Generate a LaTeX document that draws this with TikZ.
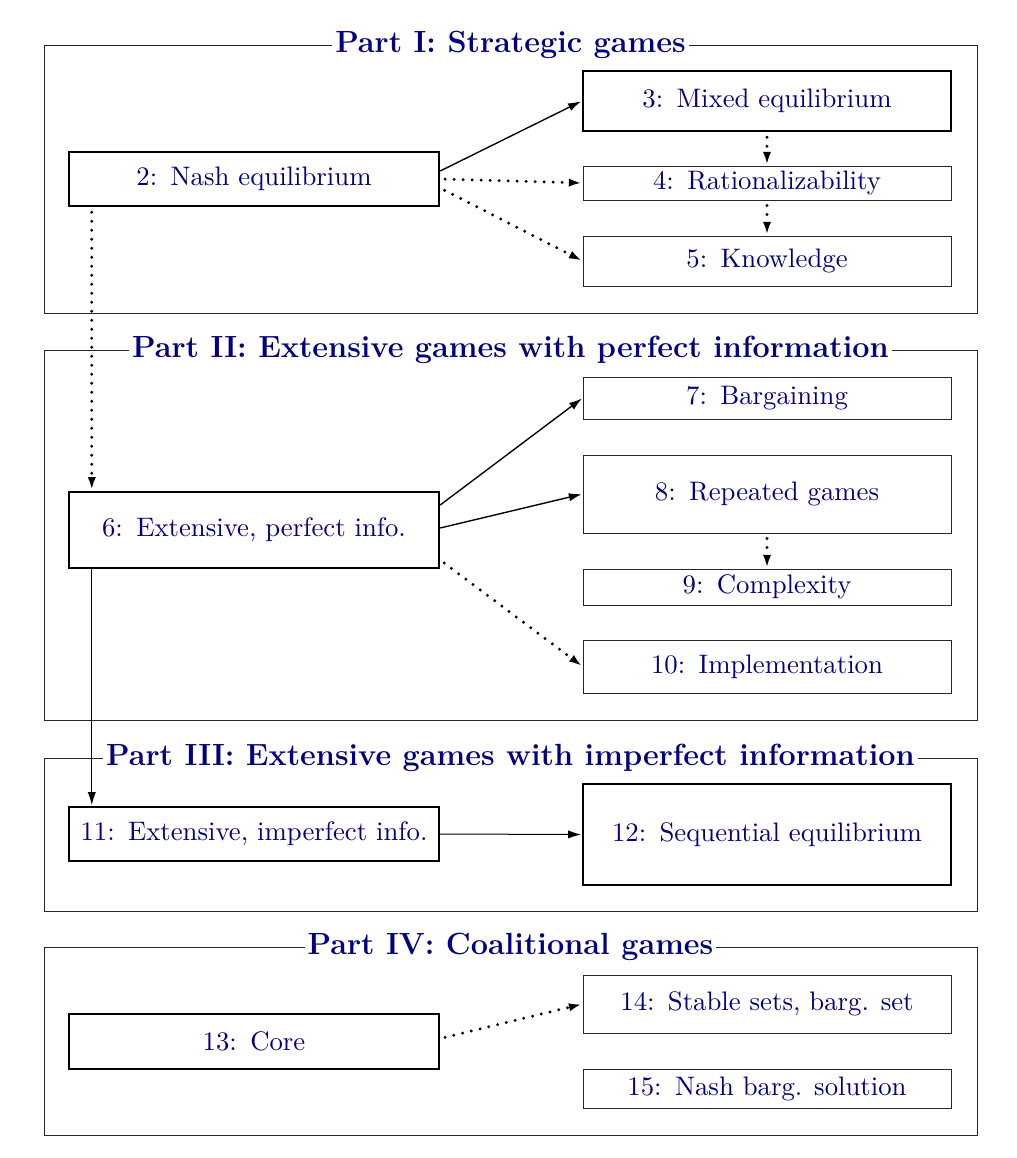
\documentclass[tikz,border=0pt]{standalone}
\usetikzlibrary{arrows.meta,calc}
\definecolor{navy}{RGB}{0,0,128}
\newcommand\lbl[2]{#1:\hspace{.5em}#2}
\begin{document}
\begin{tikzpicture}[x=0.4pt,y=-0.4pt,
 frame/.style={draw=black!85,line width=0.35pt,inner sep=0pt,minimum width=373.2pt},
 title/.style={fill=white,text=navy,font=\fontsize{12.25}{15}\selectfont\bfseries,inner sep=1.2pt},
 bx/.style={draw=black!85,line width=0.35pt,text=navy,inner sep=0pt,align=center,font=\fontsize{10.7}{13}\selectfont},
 tbx/.style={bx,draw=black,line width=0.95pt},
 lbx/.style={minimum width=148pt},
 rbx/.style={minimum width=147.2pt},
 arr/.style={-{Latex[length=5.2pt,width=3.3pt]},line width=0.55pt,shorten >=0.3pt},
 dot/.style={arr,line width=1.3pt,dash pattern=on 0pt off 3.6pt,line cap=round,shorten <=2pt}
]
\useasboundingbox (0,0) rectangle (1016,1158);
% frames
\node[frame,minimum height=107.2pt] (f1) at (510.5,179) {};
\node[frame,minimum height=148pt] (f2) at (510.5,535) {};
\node[frame,minimum height=61.2pt] (f3) at (510.5,834.5) {};
\node[frame,minimum height=75.2pt] (f4) at (510.5,1041) {};
\node[title] (t1) at (f1.north) {Part I: Strategic games};
\node[title] (t2) at (f2.north) {Part II: Extensive games with perfect information};
\node[title] (t3) at (f3.north) {Part III: Extensive games with imperfect information};
\node[title] (t4) at (f4.north) {Part IV: Coalitional games};
% boxes
\node[tbx,lbx,minimum height=21.6pt] (n2) at (254,179) {\lbl{2}{Nash equilibrium}};
\node[tbx,rbx,minimum height=24pt] (n3) at (767,101) {\lbl{3}{Mixed equilibrium}};
\node[bx,rbx,minimum height=13.6pt] (n4) at (767,183) {\lbl{4}{Rationalizability}};
\node[bx,rbx,minimum height=20pt] (n5) at (767,261) {\lbl{5}{Knowledge}};
\node[tbx,lbx,minimum height=30.4pt] (n6) at (254,530) {\lbl{6}{Extensive, perfect info.}};
\node[bx,rbx,minimum height=16.8pt] (n7) at (767,398) {\lbl{7}{Bargaining}};
\node[bx,rbx,minimum height=31.2pt] (n8) at (767,494) {\lbl{8}{Repeated games}};
\node[bx,rbx,minimum height=14.4pt] (n9) at (767,587) {\lbl{9}{Complexity}};
\node[bx,rbx,minimum height=21.2pt] (n10) at (767,666.5) {\lbl{10}{Implementation}};
\node[tbx,lbx,minimum height=21.6pt] (n11) at (254,834) {\lbl{11}{Extensive, imperfect info.}};
\node[tbx,rbx,minimum height=40.4pt] (n12) at (767,834.5) {\lbl{12}{Sequential equilibrium}};
\node[tbx,lbx,minimum height=22pt] (n13) at (254,1041.5) {\lbl{13}{Core}};
\node[bx,rbx,minimum height=23.2pt] (n14) at (767,1004) {\lbl{14}{Stable sets, barg. set}};
\node[bx,rbx,minimum height=15.6pt] (n15) at (767,1088.5) {\lbl{15}{Nash barg. solution}};
% connectors
\draw[arr] ([yshift=3.2pt]n2.east) -- (n3.west);
\draw[dot] (n2.east) -- (n4.west);
\draw[dot] ([yshift=-3.6pt]n2.east) -- (n5.west);
\draw[dot] (n3.south) -- (n4.north);
\draw[dot] (n4.south) -- (n5.north);
\draw[dot] ([xshift=9.6pt]n2.south west) -- ([xshift=9.6pt]n6.north west);
\draw[arr] ([yshift=10pt]n6.east) -- (n7.west);
\draw[arr] ([yshift=0.8pt]n6.east) -- (n8.west);
\draw[dot] (n8.south) -- (n9.north);
\draw[dot] ([yshift=-12pt]n6.east) -- (n10.west);
\draw[arr,line width=0.4pt] ([xshift=9.6pt]n6.south west) -- ([xshift=9.6pt]n11.north west);
\draw[arr,line width=0.4pt] (n11.east) -- (n12.west);
\draw[dot] ([yshift=1.2pt]n13.east) -- (n14.west);
\end{tikzpicture}
\end{document}
